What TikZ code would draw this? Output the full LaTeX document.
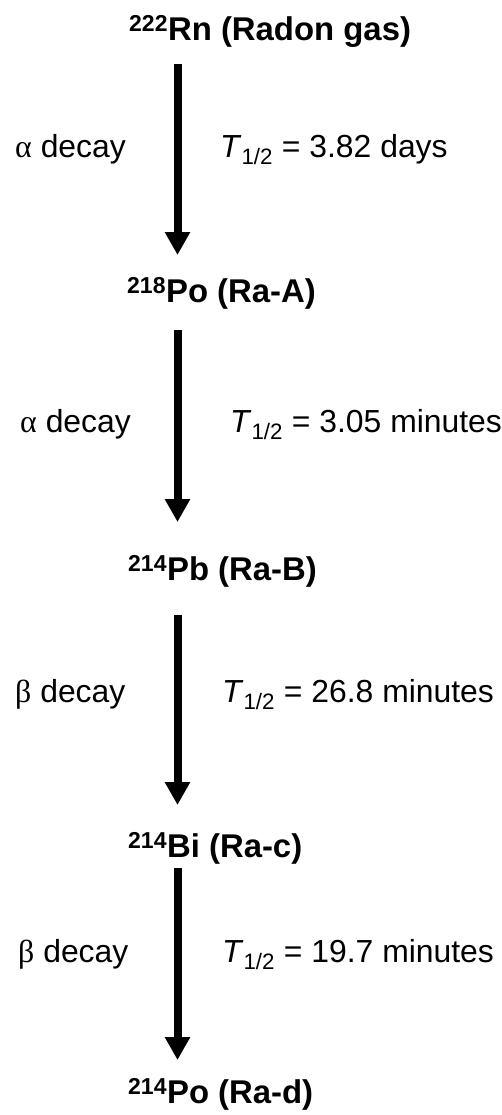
\documentclass[tikz,border=0pt]{standalone}
\usepackage{fontspec}
\setmainfont{Liberation Sans}
\newfontfamily\grk{Liberation Serif}
\usetikzlibrary{arrows.meta}
\tikzset{
  x=1bp, y=-1bp,
  title/.style={font=\fontsize{33}{38}\selectfont\bfseries, inner sep=0pt, anchor=base west},
  lbl/.style={font=\fontsize{32}{38}\selectfont, inner sep=0pt, anchor=base west},
  arr/.style={line width=8bp, -{Triangle[width=24bp,length=23bp]}}
}
\newcommand{\half}{\textit{T}\textsubscript{1/2}}
\begin{document}
\begin{tikzpicture}
\useasboundingbox (0,0) rectangle (502,1115);
\node[title] (n1) at (129,40) {\textsuperscript{222}Rn (Radon gas)};
\node[title] (n2) at (127,302) {\textsuperscript{218}Po (Ra-A)};
\node[title] (n3) at (128,580) {\textsuperscript{214}Pb (Ra-B)};
\node[title] (n4) at (128,857) {\textsuperscript{214}Bi (Ra-c)};
\node[title] (n5) at (128,1103) {\textsuperscript{214}Po (Ra-d)};

\node[lbl] (d1) at (15,157) {{\grk α} decay};
\node[lbl] (t1) at (220,157) {\half{} = 3.82 days};
\node[lbl] (d2) at (20,432) {{\grk α} decay};
\node[lbl] (t2) at (230,432) {\half{} = 3.05 minutes};
\node[lbl] (d3) at (15,702) {{\grk β} decay};
\node[lbl] (t3) at (222,702) {\half{} = 26.8 minutes};
\node[lbl] (d4) at (18,962) {{\grk β} decay};
\node[lbl] (t4) at (222,962) {\half{} = 19.7 minutes};

\coordinate (a1s) at (177.5,64);   \coordinate (a1e) at (177.5,255);
\coordinate (a2s) at (177.5,330);  \coordinate (a2e) at (177.5,522);
\coordinate (a3s) at (177.5,615);  \coordinate (a3e) at (177.5,805);
\coordinate (a4s) at (177.5,868);  \coordinate (a4e) at (177.5,1060);
\draw[arr] (a1s) -- (a1e);
\draw[arr] (a2s) -- (a2e);
\draw[arr] (a3s) -- (a3e);
\draw[arr] (a4s) -- (a4e);
\end{tikzpicture}
\end{document}
